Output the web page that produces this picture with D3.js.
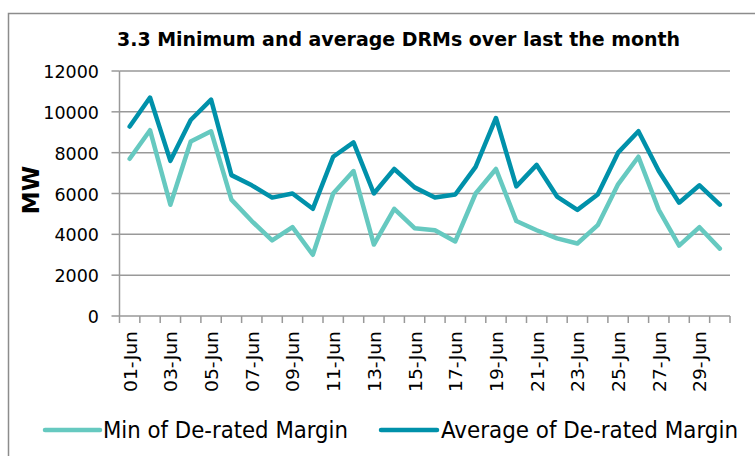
<!DOCTYPE html>
<html><head><meta charset="utf-8">
<script src="https://cdn.jsdelivr.net/npm/d3@7/dist/d3.min.js"></script>
<style>body{margin:0;background:#fff;} svg{display:block;}</style>
</head><body>
<svg id="c" width="755" height="456"></svg>
<script>
const days = ["01-Jun","02-Jun","03-Jun","04-Jun","05-Jun","06-Jun","07-Jun","08-Jun","09-Jun","10-Jun",
"11-Jun","12-Jun","13-Jun","14-Jun","15-Jun","16-Jun","17-Jun","18-Jun","19-Jun","20-Jun",
"21-Jun","22-Jun","23-Jun","24-Jun","25-Jun","26-Jun","27-Jun","28-Jun","29-Jun","30-Jun"];
const minMargin = [7700,9100,5450,8550,9050,5700,4650,3700,4350,3000,
6000,7100,3500,5250,4300,4200,3650,6000,7200,4650,
4200,3800,3550,4450,6450,7800,5200,3450,4350,3300];
const avgMargin = [9280,10700,7600,9600,10600,6900,6400,5800,6000,5250,
7800,8500,6000,7200,6300,5800,5950,7300,9700,6350,
7400,5850,5200,5950,8000,9050,7100,5550,6400,5450];
const yTicks = [0,2000,4000,6000,8000,10000,12000];
const chartTitle = "3.3 Minimum and average DRMs over last the month";
const yTitle = "MW";
const seriesNames = ["Min of De-rated Margin","Average of De-rated Margin"];
const colors = ["#66C9C0","#0091AA"];

const svg = d3.select("#c");
const font = "DejaVu Sans, Verdana, sans-serif";
const condFont = "DejaVu Sans Condensed, DejaVu Sans, sans-serif";
const pL = 119.5, pR = 730, pT = 71, pB = 316;

// frame
svg.append("path").attr("d","M8.5,760 L8.5,13.5 L760,13.5").attr("fill","none").attr("stroke","#8c8c8c").attr("stroke-width",1.5);

const x = d3.scaleBand().domain(days).range([pL, pR]).paddingInner(0).paddingOuter(0);
const y = d3.scaleLinear().domain([0,12000]).range([pB, pT]);

// gridlines
svg.append("g").selectAll("line").data(yTicks.filter(t=>t>0)).join("line")
  .attr("x1",pL).attr("x2",pR).attr("y1",d=>y(d)).attr("y2",d=>y(d))
  .attr("stroke","#999").attr("stroke-width",1.5);

// y axis
svg.append("line").attr("x1",pL).attr("x2",pL).attr("y1",pT).attr("y2",pB).attr("stroke","#999").attr("stroke-width",1.5);
svg.append("g").selectAll("line").data(yTicks).join("line")
  .attr("x1",pL-8).attr("x2",pL).attr("y1",d=>y(d)).attr("y2",d=>y(d)).attr("stroke","#999").attr("stroke-width",1.5);
svg.append("g").selectAll("text").data(yTicks).join("text")
  .attr("x",99).attr("y",d=>y(d)+1).attr("text-anchor","end").attr("dominant-baseline","central")
  .attr("font-family",font).attr("font-size",17.5).attr("fill","#000").text(d=>d);

// x axis
svg.append("line").attr("x1",pL).attr("x2",pR).attr("y1",pB).attr("y2",pB).attr("stroke","#999").attr("stroke-width",1.5);
const bounds = days.map(d=>x(d)).concat([x(days[days.length-1])+x.bandwidth()]);
svg.append("g").selectAll("line").data(bounds).join("line")
  .attr("x1",d=>d).attr("x2",d=>d).attr("y1",pB).attr("y2",pB+7).attr("stroke","#999").attr("stroke-width",1.5);
svg.append("g").selectAll("text").data(days.filter((d,i)=>i%2===0)).join("text")
  .attr("transform",d=>`translate(${x(d)+x.bandwidth()/2+1},331) rotate(-90)`)
  .attr("text-anchor","end").attr("dominant-baseline","central")
  .attr("font-family",font).attr("font-size",17.5).attr("fill","#000")
  .attr("textLength",61).attr("lengthAdjust","spacingAndGlyphs").text(d=>d);

// lines
const line = d3.line().x((d,i)=>x(days[i])+x.bandwidth()/2).y(d=>y(d));
[minMargin, avgMargin].forEach((s,k)=>{
  svg.append("path").datum(s).attr("d",line).attr("fill","none")
    .attr("stroke",colors[k]).attr("stroke-width",4.5).attr("stroke-linejoin","round").attr("stroke-linecap","round");
});

// title
svg.append("text").attr("x",398.5).attr("y",46).attr("text-anchor","middle")
  .attr("font-family",condFont).attr("font-weight","bold").attr("font-size",19).attr("fill","#000")
  .attr("textLength",563).attr("lengthAdjust","spacingAndGlyphs").text(chartTitle);

// y title
svg.append("text").attr("transform","translate(39,190) rotate(-90)").attr("text-anchor","middle")
  .attr("font-family",font).attr("font-weight","bold").attr("font-size",23).attr("fill","#000").text(yTitle);

// legend
const leg = [{x1:45,x2:100,tx:103,tw:245},{x1:381,x2:437,tx:441,tw:297}];
leg.forEach((l,k)=>{
  svg.append("line").attr("x1",l.x1).attr("x2",l.x2).attr("y1",430).attr("y2",430)
    .attr("stroke",colors[k]).attr("stroke-width",4.5).attr("stroke-linecap","round");
  svg.append("text").attr("x",l.tx).attr("y",437.5).attr("font-family",condFont).attr("font-size",23).attr("fill","#000")
    .attr("textLength",l.tw).attr("lengthAdjust","spacingAndGlyphs").text(seriesNames[k]);
});
</script>
</body></html>
